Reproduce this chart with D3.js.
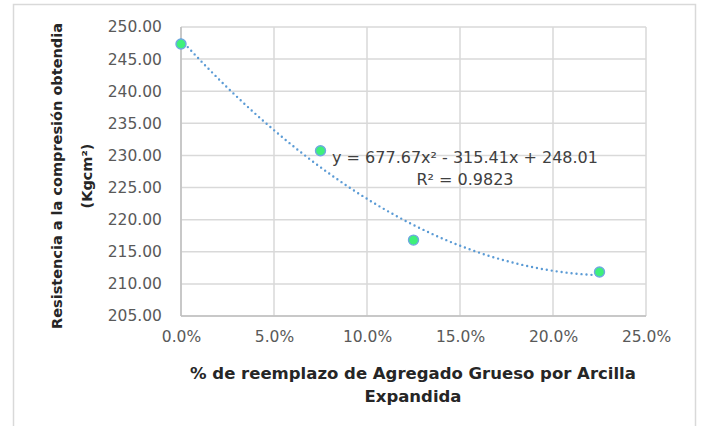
<!DOCTYPE html>
<html>
<head>
<meta charset="utf-8">
<script src="https://cdn.jsdelivr.net/npm/d3@7"></script>
<style>
  body { margin: 0; background: #fff; }
  svg { font-family: "DejaVu Sans", sans-serif; }
</style>
</head>
<body>
<svg id="chart" width="701" height="426"></svg>
<script>
// data
let reemplazo = [0.0, 0.075, 0.125, 0.225];
let resistencia = [247.35, 230.73, 216.82, 211.84];
let yTicks = [205, 210, 215, 220, 225, 230, 235, 240, 245, 250];
let xTicks = [0, 0.05, 0.10, 0.15, 0.20, 0.25];
// trendline coefficients shown on the chart (a, b, c for ax^2 + bx + c)
let trendCoef = [677.67, -315.41, 248.01];
let trendLabels = ["y = 677.67x² - 315.41x + 248.01", "R² = 0.9823"];

let svg = d3.select("#chart");
let margin = {top: 27, right: 55, bottom: 110, left: 181};
let width = 646 - margin.left;
let height = 316 - margin.top;

// outer chart frame
svg.append("rect")
    .attr("x", 13.5).attr("y", 4.5)
    .attr("width", 682).attr("height", 440)
    .attr("fill", "none")
    .attr("stroke", "#d9d9d9")
    .attr("stroke-width", 1.5);

let g = svg.append("g")
    .attr("transform", `translate(${margin.left}, ${margin.top})`);

let x = d3.scaleLinear().domain([0, 0.25]).range([0, width]);
let y = d3.scaleLinear().domain([205, 250]).range([height, 0]);

// gridlines
g.append("g")
    .selectAll("line.hgrid")
    .data(yTicks)
    .enter().append("line")
    .attr("class", "hgrid")
    .attr("x1", 0).attr("x2", width)
    .attr("y1", d => y(d)).attr("y2", d => y(d))
    .attr("stroke", "#d9d9d9")
    .attr("stroke-width", 1.5);

g.append("g")
    .selectAll("line.vgrid")
    .data(xTicks)
    .enter().append("line")
    .attr("class", "vgrid")
    .attr("x1", d => x(d)).attr("x2", d => x(d))
    .attr("y1", 0).attr("y2", height)
    .attr("stroke", "#d9d9d9")
    .attr("stroke-width", 1.5);

// axes (labels only, lines are the grid)
let yAxis = g.append("g")
    .call(d3.axisLeft(y).tickValues(yTicks).tickFormat(d3.format(".2f")).tickSize(0).tickPadding(19));
let xAxis = g.append("g")
    .attr("transform", `translate(0, ${height})`)
    .call(d3.axisBottom(x).tickValues(xTicks).tickFormat(d3.format(".1%")).tickSize(0).tickPadding(15));

[yAxis, xAxis].forEach(a => {
    a.select(".domain").remove();
    a.selectAll("text")
        .attr("fill", "#595959")
        .style("font-size", "15.5px")
        .style("font-family", "'DejaVu Sans', sans-serif");
});
g.append("line")
    .attr("x1", 0).attr("x2", width)
    .attr("y1", height).attr("y2", height)
    .attr("stroke", "#bfbfbf").attr("stroke-width", 1.5);
g.append("line")
    .attr("x1", 0).attr("x2", 0)
    .attr("y1", 0).attr("y2", height)
    .attr("stroke", "#bfbfbf").attr("stroke-width", 1.5);

// polynomial trendline
let trendX = d3.range(0, 0.2251, 0.0025);
let line = d3.line()
    .x(d => x(d))
    .y(d => y(trendCoef[0] * d * d + trendCoef[1] * d + trendCoef[2]));

g.append("path")
    .datum(trendX)
    .attr("d", line)
    .attr("fill", "none")
    .attr("stroke", "#5b9bd5")
    .attr("stroke-width", 2.4)
    .attr("stroke-linecap", "round")
    .attr("stroke-dasharray", "0,5");

// points
g.selectAll(".pt")
    .data(reemplazo)
    .enter().append("circle")
    .attr("class", "pt")
    .attr("cx", d => x(d))
    .attr("cy", (d, i) => y(resistencia[i]))
    .attr("r", 5)
    .attr("fill", "#3ef07a")
    .attr("stroke", "#6ea8e0")
    .attr("stroke-width", 1.4);

// trendline labels
svg.append("text")
    .attr("x", 465).attr("y", 163)
    .attr("text-anchor", "middle")
    .attr("fill", "#404040")
    .style("font-size", "16px")
    .text(trendLabels[0]);
svg.append("text")
    .attr("x", 465).attr("y", 185)
    .attr("text-anchor", "middle")
    .attr("fill", "#404040")
    .style("font-size", "16px")
    .text(trendLabels[1]);

// axis titles
let xTitle = svg.append("text")
    .attr("text-anchor", "middle")
    .attr("fill", "#262626")
    .style("font-size", "16.5px")
    .style("font-weight", "bold");
xTitle.append("tspan").attr("x", 413).attr("y", 379).text("% de reemplazo de Agregado Grueso por Arcilla");
xTitle.append("tspan").attr("x", 413).attr("y", 402).text("Expandida");

let yTitle = svg.append("text")
    .attr("transform", "translate(0, 176) rotate(-90)")
    .attr("text-anchor", "middle")
    .attr("fill", "#262626")
    .style("font-size", "14.5px")
    .style("font-weight", "bold");
yTitle.append("tspan").attr("x", 0).attr("y", 62).text("Resistencia a la  compresión obtendia");
yTitle.append("tspan").attr("x", 0).attr("y", 92).text("(Kgcm²)");
</script>
</body>
</html>
